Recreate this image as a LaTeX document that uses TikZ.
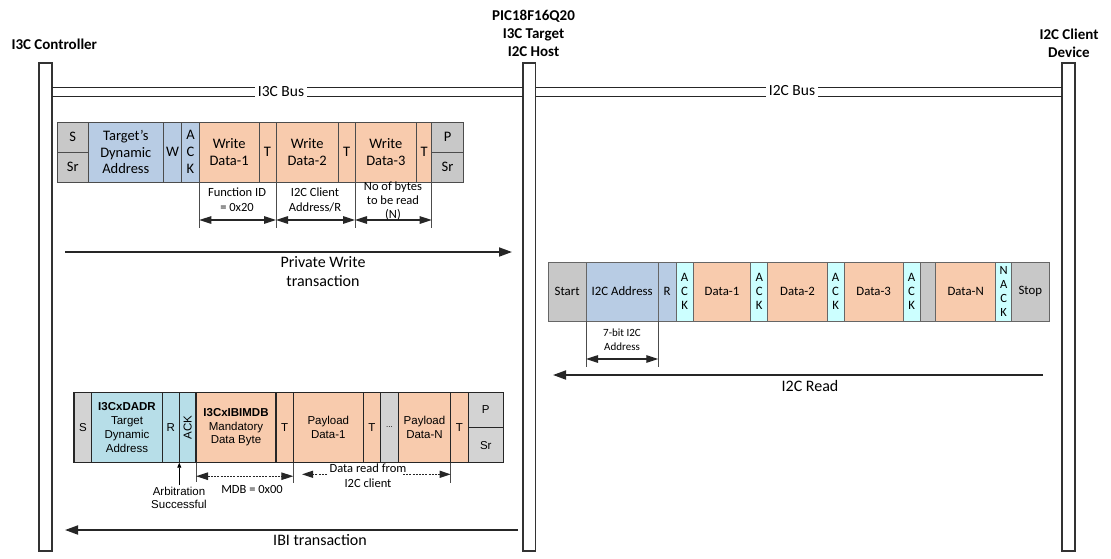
\documentclass[tikz,border=0pt]{standalone}
\usepackage{fontspec}
\setmainfont{Carlito}
\newfontfamily\arialf{Liberation Sans}
\usepackage{graphicx}
\usetikzlibrary{arrows.meta}
\definecolor{gfill}{HTML}{C8C8C8}
\definecolor{ibgray}{HTML}{D3D3D3}
\definecolor{pwblue}{HTML}{B8CCE4}
\definecolor{orng}{HTML}{F8CBAD}
\definecolor{cyn}{HTML}{CCFFFF}
\definecolor{ibblue}{HTML}{B7DEE8}
\tikzset{
 fld/.style={draw=black!70, line width=0.9pt, inner sep=0pt, outer sep=0pt, align=center, anchor=north west},
 pw/.style={fld, font=\fontsize{14.5}{16.7}\selectfont},
 rd/.style={fld, draw=black!60, font=\fontsize{12.8}{14.3}\selectfont},
 ib/.style={fld, draw=black!85, line width=1.2pt, font=\arialf\fontsize{11.5}{14.2}\selectfont},
 bar/.style={draw=black!80, line width=1.2pt, fill=white, minimum width=13pt, anchor=north west, inner sep=0pt, outer sep=0pt},
 bus/.style={draw=black!85, line width=1.3pt},
 busl/.style={inner xsep=3pt, inner ysep=1pt, font=\fontsize{15.5}{18}\selectfont},
 title/.style={font=\bfseries\fontsize{15}{18.3}\selectfont, align=center},
 bigarrow/.style={line width=1.8pt, draw=black!85, -{Triangle[length=13pt,width=9pt]}},
 dimarrow/.style={line width=1.2pt, draw=black!85, {Triangle[length=12pt,width=7.5pt]}-{Triangle[length=12pt,width=7.5pt]}},
 halfarrow/.style={line width=1.2pt, draw=black!85, -{Triangle[length=11pt,width=7pt]}},
 dotline/.style={dash pattern=on 2pt off 1.2pt},
 tick/.style={line width=0.8pt, draw=black!70},
 biglabel/.style={font=\fontsize{16}{19.5}\selectfont, align=center},
 dimlabel/.style={font=\fontsize{12.5}{15.4}\selectfont, align=center},
 ibtext/.style={font=\arialf\fontsize{11.5}{13}\selectfont, align=center},
}
\newcommand{\fieldbox}[7]{%
 \pgfmathsetmacro\fbw{#4-#3}%
 \pgfmathsetmacro\fbh{#6-#5}%
 \node[#2, minimum width=\fbw pt, minimum height=\fbh pt] (#1) at (#3,#5) {#7};}
\begin{document}
\begin{tikzpicture}[x=1pt,y=-1pt]
\useasboundingbox (0,0) rectangle (1111,558);
% titles
\node[title, anchor=west] (tctl) at (8,44) {I3C Controller};
\node[title] (tpic) at (533.5,33.3) {PIC18F16Q20\\I3C Target\\I2C Host};
\node[title] (tcli) at (1069,43.5) {I2C Client\\Device};
% bars
\node[bar, minimum height=488pt] (bctl) at (39,63) {};
\node[bar, minimum height=488pt, minimum width=12.5pt] (bpic) at (523,63) {};
\node[bar, minimum height=488pt] (bcli) at (1062,63) {};
% buses
\node[busl] (l3) at (281,91.5) {I3C Bus};
\node[busl] (l2) at (792,91) {I2C Bus};
\coordinate (ya) at (0,87.3);
\coordinate (yb) at (0,96.5);
\draw[bus] (bctl.east |- ya) -- (l3.west |- ya) (l3.east |- ya) -- (bpic.west |- ya);
\draw[bus] (bctl.east |- yb) -- (l3.west |- yb) (l3.east |- yb) -- (bpic.west |- yb);
\draw[bus] (bpic.east |- ya) -- (l2.west |- ya) (l2.east |- ya) -- (bcli.west |- ya);
\draw[bus] (bpic.east |- yb) -- (l2.west |- yb) (l2.east |- yb) -- (bcli.west |- yb);
% private write frame
\fieldbox{pwS}{pw,fill=gfill}{57.3}{88.3}{122}{152}{S}
\fieldbox{pwSr}{pw,fill=gfill}{57.3}{88.3}{152}{182}{Sr}
\fieldbox{pwTDA}{pw,fill=pwblue}{88.3}{163.3}{122}{182}{Target’s\\Dynamic\\Address}
\fieldbox{pwW}{pw,fill=pwblue}{163.3}{181.7}{122}{182}{W}
\fieldbox{pwACK}{pw,fill=pwblue}{181.7}{199.3}{122}{182}{A\\C\\K}
\fieldbox{wd1}{pw,fill=orng}{199.3}{259}{122}{182}{Write\\Data-1}
\fieldbox{pwT1}{pw,fill=orng}{259}{276}{122}{182}{T}
\fieldbox{wd2}{pw,fill=orng}{276}{338.3}{122}{182}{Write\\Data-2}
\fieldbox{pwT2}{pw,fill=orng}{338.3}{355}{122}{182}{T}
\fieldbox{wd3}{pw,fill=orng}{355}{416.7}{122}{182}{Write\\Data-3}
\fieldbox{pwT3}{pw,fill=orng}{416.7}{431.7}{122}{182}{T}
\fieldbox{pwP}{pw,fill=gfill}{431.7}{463.3}{122}{152}{P}
\fieldbox{pwSr2}{pw,fill=gfill}{431.7}{463.3}{152}{182}{Sr}
% private write dimensions
\draw[tick] (wd1.south west) -- ++(0,46);
\draw[tick] (wd2.south west) -- ++(0,46);
\draw[tick] (wd3.south west) -- ++(0,46);
\draw[tick] (pwSr2.south west) -- ++(0,46);
\draw[dimarrow] ([yshift=-38pt]wd1.south west) -- ([yshift=-38pt]wd2.south west);
\draw[dimarrow] ([yshift=-38pt]wd2.south west) -- ([yshift=-38pt]wd3.south west);
\draw[dimarrow] ([yshift=-38pt]wd3.south west) -- ([yshift=-38pt]pwSr2.south west);
\node[dimlabel] (dfid) at (237,200) {Function ID\\= 0x20};
\node[dimlabel] (dcli) at (315,200) {I2C Client\\Address/R};
\node[dimlabel, font=\fontsize{12.5}{14}\selectfont] (dnob) at (393,201.3) {No of bytes\\to be read\\(N)};
% private write arrow
\coordinate (pwA) at (65,252);
\coordinate (pwB) at (512,252);
\draw[bigarrow] (pwA) -- (pwB);
\node[biglabel] (lpw) at (323,271.5) {Private Write\\transaction};
% I2C read frame
\fieldbox{rdStart}{rd,fill=gfill}{548.3}{586}{262}{321}{Start}
\fieldbox{rdAddr}{rd,fill=pwblue}{586}{658.3}{262}{321}{I2C Address}
\fieldbox{rdR}{rd,fill=pwblue}{658.3}{676}{262}{321}{R}
\fieldbox{rdA1}{rd,fill=cyn}{676}{693.3}{262}{321}{A\\C\\K}
\fieldbox{rdD1}{rd,fill=orng}{693.3}{750.7}{262}{321}{Data-1}
\fieldbox{rdA2}{rd,fill=cyn}{750.7}{767.7}{262}{321}{A\\C\\K}
\fieldbox{rdD2}{rd,fill=orng}{767.7}{827.3}{262}{321}{Data-2}
\fieldbox{rdA3}{rd,fill=cyn}{827.3}{844}{262}{321}{A\\C\\K}
\fieldbox{rdD3}{rd,fill=orng}{844}{903.3}{262}{321}{Data-3}
\fieldbox{rdA4}{rd,fill=cyn}{903.3}{920}{262}{321}{A\\C\\K}
\fieldbox{rdGap}{rd,fill=gfill}{920}{935.7}{262}{321}{}
\fieldbox{rdDN}{rd,fill=orng}{935.7}{995.7}{262}{321}{Data-N}
\fieldbox{rdNA}{rd,fill=cyn,font=\fontsize{12.5}{13.8}\selectfont}{995.7}{1011.7}{262}{321}{N\\A\\C\\K}
\fieldbox{rdStop}{rd,fill=gfill}{1011.7}{1049}{262}{321}{Stop}
\draw[tick] (rdAddr.south west) -- ++(0,46);
\draw[tick] (rdR.south west) -- ++(0,46);
\draw[dimarrow] ([yshift=-38pt]rdAddr.south west) -- ([yshift=-38pt]rdR.south west);
\node[font=\fontsize{11}{14}\selectfont, align=center] (d7) at (622,339.7) {7-bit I2C\\Address};
\coordinate (rdA) at (1043,375);
\coordinate (rdB) at (553,375);
\draw[bigarrow] (rdA) -- (rdB);
\node[biglabel] (lrd) at (810,385.5) {I2C Read};
% IBI frame
\fieldbox{ibS}{ib,fill=ibgray}{74}{91.7}{392.3}{462.7}{S}
\fieldbox{ibDA}{ib,fill=ibblue}{91.7}{162.3}{392.3}{462.7}{\textbf{I3CxDADR}\\Target\\Dynamic\\Address}
\fieldbox{ibR}{ib,fill=ibblue}{162.3}{179.3}{392.3}{462.7}{R}
\fieldbox{ibACK}{ib,fill=ibblue}{179.3}{196}{392.3}{462.7}{\rotatebox{90}{ACK}}
\fieldbox{ibMDB}{ib,fill=orng,font=\arialf\fontsize{11.5}{13.5}\selectfont}{196}{276}{392.3}{462.7}{\textbf{I3CxIBIMDB}\\Mandatory\\Data Byte}
\fieldbox{ibT1}{ib,fill=orng}{276}{293.3}{392.3}{462.7}{T}
\fieldbox{ibPD1}{ib,fill=orng}{293.3}{363.3}{392.3}{462.7}{Payload\\Data-1}
\fieldbox{ibT2}{ib,fill=orng}{363.3}{380.7}{392.3}{462.7}{T}
\fieldbox{ibDots}{ib,fill=ibgray,font=\arialf\fontsize{8}{8}\selectfont}{380.7}{398.3}{392.3}{462.7}{...}
\fieldbox{ibPDN}{ib,fill=orng}{398.3}{450.7}{392.3}{462.7}{Payload\\Data-N}
\fieldbox{ibT3}{ib,fill=orng}{450.7}{468.3}{392.3}{462.7}{T}
\fieldbox{ibP}{ib,fill=ibgray}{468.3}{503.3}{392.3}{427.7}{P}
\fieldbox{ibSr}{ib,fill=ibgray}{468.3}{503.3}{427.7}{462.7}{Sr}
% IBI annotations
\coordinate (arbS) at (179.3,485);
\draw[line width=0.8pt, -{Triangle[length=5pt,width=4pt]}] (arbS) -- (ibACK.south west);
\node[ibtext] (arb) at (179,497.5) {Arbitration\\Successful};
\draw[tick] (ibMDB.south west) -- ++(0,19.5);
\draw[tick] (ibPD1.south west) -- ++(0,20);
\draw[tick] (ibT3.south west) -- ++(0,20.5);
\draw[dimarrow, dotline] ([yshift=-13.5pt]ibMDB.south west) -- ([yshift=-13.5pt]ibPD1.south west);
\node[font=\fontsize{12.5}{15}\selectfont] (lmdb) at (252,489) {MDB = 0x00};
\coordinate (drL1) at (327,474.3);
\coordinate (drL2) at (302,474.3);
\coordinate (drR1) at (403,474.3);
\draw[halfarrow, dotline] (drL1) -- (drL2);
\draw[halfarrow, dotline] (drR1) -- (ibT3.south west |- drR1);
\node[font=\fontsize{12.5}{15.6}\selectfont, align=center] (ldr) at (368,475.5) {Data read from\\I2C client};
\coordinate (ibA) at (518,530);
\coordinate (ibB) at (65,530);
\draw[bigarrow] (ibA) -- (ibB);
\node[biglabel] (libi) at (320,540) {IBI transaction};
\end{tikzpicture}
\end{document}
